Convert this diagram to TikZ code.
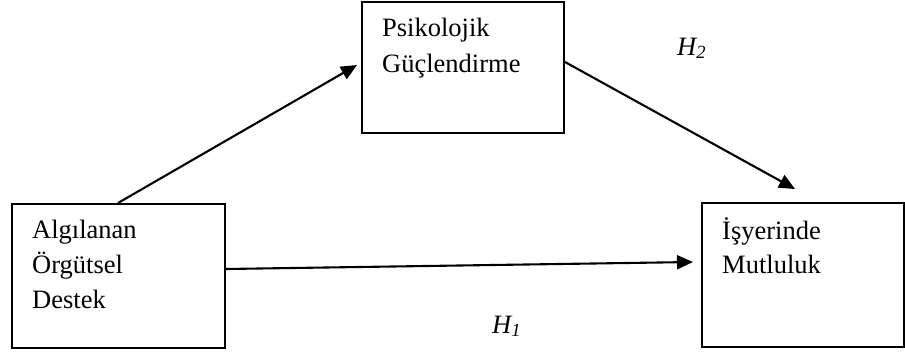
\documentclass[tikz,border=0pt]{standalone}
\usepackage{fontspec}
\setmainfont{Liberation Serif}
\usetikzlibrary{arrows.meta}
\begin{document}
\begin{tikzpicture}[x=1pt,y=-1pt,
  box/.style={draw, line width=2pt, anchor=north west, inner sep=0pt},
  lbl/.style={anchor=base west, inner sep=0pt, font=\fontsize{26.5}{35}\selectfont},
  hyp/.style={anchor=base west, inner sep=0pt, font=\fontsize{26.5}{35}\selectfont\itshape},
  conn/.style={line width=2.1pt, -{Triangle[length=16pt,width=14pt]}}]
\useasboundingbox (0,0) rectangle (905,351);
\node[box, minimum width=213pt, minimum height=144pt] (aos) at (11,203) {};
\node[box, minimum width=202pt, minimum height=131pt] (pg) at (361,1) {};
\node[box, minimum width=202pt, minimum height=144pt] (im) at (701,202) {};
\node[lbl] (aos1) at (32,238) {Algılanan};
\node[lbl] (aos2) at (32,273) {Örgütsel};
\node[lbl] (aos3) at (32,308) {Destek};
\node[lbl] (pg1) at (382,36) {Psikolojik};
\node[lbl] (pg2) at (382,72) {Güçlendirme};
\node[lbl] (im1) at (722,239) {İşyerinde};
\node[lbl] (im2) at (722,273) {Mutluluk};
\node[hyp] (h2) at (677,55) {H\textsubscript{2}};
\node[hyp] (h1) at (492,333) {H\textsubscript{1}};
\draw[conn] ([xshift=107pt]aos.north west) -- ([xshift=-4pt,yshift=-64pt]pg.north west);
\draw[conn] ([yshift=-61pt]pg.north east) -- ([xshift=94pt,yshift=13pt]im.north west);
\draw[conn] ([yshift=-66pt]aos.north east) -- ([xshift=-8pt,yshift=-60pt]im.north west);
\end{tikzpicture}
\end{document}
